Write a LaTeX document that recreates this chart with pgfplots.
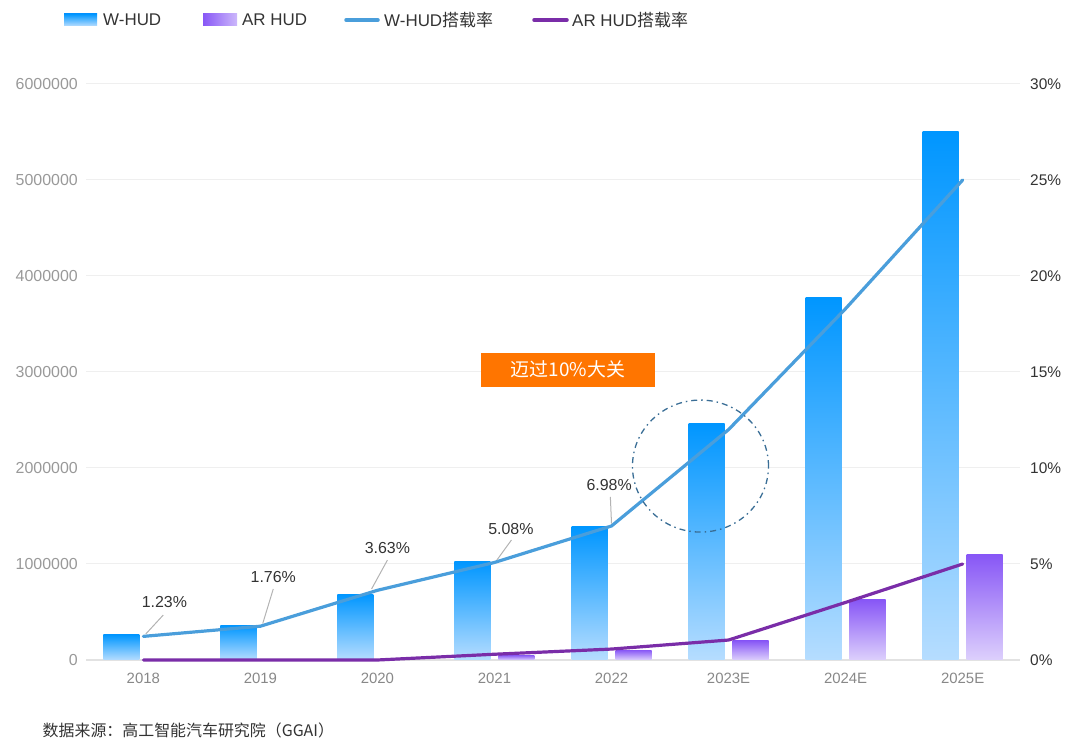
\documentclass[border=0pt]{standalone}
\usepackage{pgfplots}
\pgfplotsset{compat=1.18}
\usepackage{fontspec}
\setmainfont{Liberation Sans}
\newfontfamily\cjk{Noto Sans CJK SC}
\definecolor{whudtop}{HTML}{0096FF}
\definecolor{whudbot}{HTML}{B6DDFF}
\definecolor{artop}{HTML}{8857F6}
\definecolor{arbot}{HTML}{DDD0FC}
\definecolor{wline}{HTML}{4A9EDB}
\definecolor{arline}{HTML}{7A2DA8}
\definecolor{gridc}{HTML}{EFEFEF}
\definecolor{basec}{HTML}{E2E2E2}
\definecolor{orangebox}{HTML}{FF7500}
\definecolor{circc}{HTML}{3A6E96}
\definecolor{txt}{HTML}{333333}
\definecolor{ltxt}{HTML}{999999}
\definecolor{xtxt}{HTML}{888888}
\definecolor{leader}{HTML}{B3B3B3}

\pgfplotstableread{
x whud ar wrate arrate
0 264000 0 1.23 0
1 361000 0 1.76 0
2 687000 0 3.63 0
3 1031000 52000 5.08 0.30
4 1389000 104000 6.98 0.57
5 2465000 200000 12.0 1.04
6 3780000 625000 18.3 3.0
7 5500000 1094000 25.0 5.0
}\datatable

\begin{document}
\begin{tikzpicture}
\path[use as bounding box] (0,0) rectangle (1080bp,754bp);
\begin{axis}[
  at={(86bp,94bp)}, anchor=south west, scale only axis,
  width=934bp, height=576bp,
  xmin=-0.49, xmax=7.49, ymin=0, ymax=6000000,
  scaled y ticks=false,
  axis line style={draw=none}, major tick length=0pt,
  ytick={0,1000000,2000000,3000000,4000000,5000000,6000000},
  yticklabels={0,1000000,2000000,3000000,4000000,5000000,6000000},
  xtick={0,1,2,3,4,5,6,7},
  xticklabels={2018,2019,2020,2021,2022,2023E,2024E,2025E},
  ymajorgrids, grid style={color=gridc, line width=1bp},
  yticklabel style={font=\fontsize{16}{16}\selectfont, text=ltxt, inner sep=0pt, anchor=east, xshift=-8bp},
  xticklabel style={font=\fontsize{15}{15}\selectfont, text=xtxt, inner sep=0pt, anchor=north, yshift=-13bp},
  clip=false,
]
\draw[color=basec, line width=1.2bp] (axis cs:-0.49,0) -- (axis cs:7.49,0);
\pgfplotsinvokeforeach{0,...,7}{
\addplot[ybar, bar width=36bp, bar shift=-22bp, draw=none, top color=whudtop, bottom color=whudbot, restrict x to domain=#1:#1] table[x=x, y=whud] {\datatable};
}
\pgfplotsinvokeforeach{3,...,7}{
\addplot[ybar, bar width=36bp, bar shift=22bp, draw=none, top color=artop, bottom color=arbot, restrict x to domain=#1:#1] table[x=x, y=ar] {\datatable};
}
\end{axis}
\begin{axis}[
  at={(86bp,94bp)}, anchor=south west, scale only axis,
  width=934bp, height=576bp,
  xmin=-0.49, xmax=7.49, ymin=0, ymax=30,
  hide x axis, axis y line*=right,
  axis line style={draw=none}, major tick length=0pt,
  ytick={0,5,10,15,20,25,30},
  yticklabels={0\%,5\%,10\%,15\%,20\%,25\%,30\%},
  yticklabel style={font=\fontsize{15.5}{15.5}\selectfont, text=txt, inner sep=0pt, anchor=west, xshift=10bp},
  clip=false,
]
\addplot[color=wline, line width=3.2bp, line cap=round, line join=round] table[x=x, y=wrate] {\datatable};
\addplot[color=arline, line width=3.2bp, line cap=round, line join=round] table[x=x, y=arrate] {\datatable};
% leaders
\draw[leader, line width=1bp] (axis cs:0.02,1.35) -- (axis cs:0.17,2.34);
\draw[leader, line width=1bp] (axis cs:1.02,1.9) -- (axis cs:1.11,3.70);
\draw[leader, line width=1bp] (axis cs:1.95,3.7) -- (axis cs:2.085,5.2);
\draw[leader, line width=1bp] (axis cs:3.02,5.2) -- (axis cs:3.145,6.25);
\draw[leader, line width=1bp] (axis cs:4.0,7.1) -- (axis cs:3.99,8.49);
\begin{scope}[every node/.style={font=\fontsize{16}{16}\selectfont, text=txt, inner sep=0pt}]
\node at (axis cs:0.18,3.02) {1.23\%};
\node at (axis cs:1.11,4.32) {1.76\%};
\node at (axis cs:2.085,5.83) {3.63\%};
\node at (axis cs:3.14,6.82) {5.08\%};
\node at (axis cs:3.98,9.11) {6.98\%};
\end{scope}
\draw[circc, line width=1.3bp, dash pattern=on 6bp off 4bp on 1.5bp off 4bp] (axis cs:4.76,10.1) ellipse [x radius=68bp, y radius=66bp];
\end{axis}
% callout box
\fill[orangebox] (480.7bp,367.3bp) rectangle (655bp,401.3bp);
\node[text=white, inner sep=0pt, font=\cjk\fontsize{19}{19}\selectfont] at (567.9bp,384.3bp) {迈过10\%大关};
% legend
\shade[top color=whudtop, bottom color=whudbot] (64bp,728bp) rectangle (97bp,740bp);
\node[anchor=west, inner sep=0pt, text=txt, font=\fontsize{17}{17}\selectfont] at (103bp,734bp) {W-HUD};
\shade[left color=artop, right color=arbot!80!artop] (203bp,728bp) rectangle (237bp,740bp);
\node[anchor=west, inner sep=0pt, text=txt, font=\fontsize{17}{17}\selectfont] at (242bp,734bp) {AR HUD};
\draw[wline, line width=3.5bp, line cap=round] (346bp,734bp) -- (378bp,734bp);
\node[anchor=west, inner sep=0pt, text=txt, font=\fontsize{17}{17}\selectfont] at (384bp,734bp) {W-HUD{\cjk 搭载率}};
\draw[arline, line width=3.5bp, line cap=round] (534bp,734bp) -- (567bp,734bp);
\node[anchor=west, inner sep=0pt, text=txt, font=\fontsize{17}{17}\selectfont] at (572bp,734bp) {AR HUD{\cjk 搭载率}};
% source
\node[anchor=west, inner sep=0pt, text=txt, font=\cjk\fontsize{16}{16}\selectfont] at (42.5bp,24bp) {数据来源：高工智能汽车研究院（GGAI）};
\end{tikzpicture}
\end{document}
